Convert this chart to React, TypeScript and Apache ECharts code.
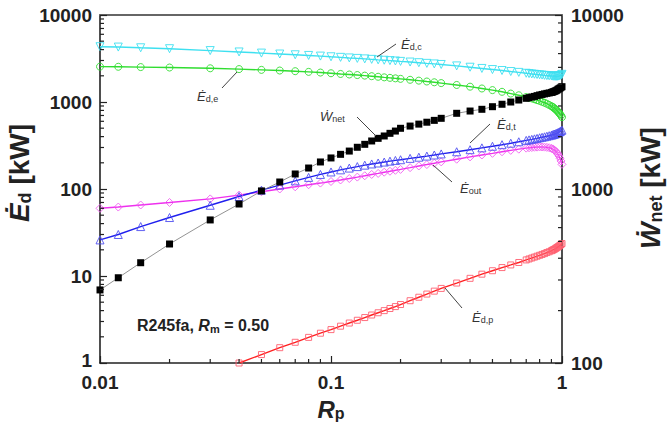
import React, { useEffect, useRef } from 'react';
import * as echarts from 'echarts';

const RP = [
  0.01, 0.012, 0.015, 0.02, 0.03, 0.04, 0.05, 0.06, 0.07, 0.08, 0.09, 0.1,
  0.11, 0.12, 0.13, 0.14, 0.15, 0.16, 0.17, 0.18, 0.19, 0.2,
  0.22, 0.24, 0.26, 0.28, 0.3,
  0.35, 0.4, 0.45, 0.5, 0.55, 0.6, 0.65, 0.7,
  0.72, 0.74, 0.76, 0.78, 0.8, 0.82, 0.84, 0.86, 0.88, 0.9,
  0.91, 0.92, 0.93, 0.94, 0.95, 0.96, 0.97, 0.98, 0.99, 1.0,
];

const ED_C = [
  4320, 4280, 4200, 4100, 3900, 3760, 3650, 3560, 3490, 3430, 3370, 3310,
  3260, 3210, 3170, 3130, 3090, 3050, 3020, 2990, 2960, 2930,
  2880, 2830, 2780, 2740, 2700,
  2600, 2510, 2430, 2360, 2300, 2240, 2190, 2140,
  2120, 2100, 2085, 2070, 2055, 2040, 2025, 2010, 2000, 1990,
  1985, 1980, 1978, 1976, 1975, 1980, 1990, 2010, 2040, 2080,
];

const ED_E = [
  2550, 2540, 2520, 2490, 2440, 2390, 2340, 2300, 2260, 2220, 2180, 2140,
  2100, 2070, 2040, 2010, 1980, 1950, 1920, 1895, 1870, 1845,
  1800, 1760, 1720, 1685, 1650,
  1570, 1500, 1430, 1370, 1310, 1250, 1195, 1140,
  1120, 1100, 1075, 1050, 1030, 1005, 980, 955, 925, 895,
  880, 860, 840, 820, 800, 775, 750, 725, 700, 670,
];

const ED_T = [
  26, 30, 37, 47, 65, 82, 97, 111, 124, 136, 147, 157,
  166, 174, 181, 188, 194, 199, 204, 209, 213, 217,
  225, 232, 239, 246, 253,
  268, 283, 297, 310, 323, 336, 349, 362,
  367, 372, 377, 382, 388, 393, 398, 404, 410, 416,
  420, 424, 428, 433, 438, 444, 450, 457, 465, 475,
];

const E_OUT = [
  60, 62, 65.5, 70, 77, 85, 93, 100, 106, 112, 117, 122,
  127, 132, 137, 142, 147, 151, 156, 160, 164, 168,
  176, 184, 191, 198, 205,
  220, 234, 246, 257, 268, 278, 287, 295,
  298, 300, 302, 303, 304, 304, 303, 301, 298, 293,
  289, 284, 278, 271, 262, 252, 240, 226, 210, 192,
];

const ED_P = [
  null, null, null, null, null, 1.0, 1.25, 1.5, 1.73, 1.97, 2.2, 2.42,
  2.65, 2.88, 3.1, 3.33, 3.56, 3.78, 4.0, 4.23, 4.45, 4.7,
  5.2, 5.7, 6.2, 6.7, 7.2,
  8.3, 9.4, 10.5, 11.5, 12.5, 13.4, 14.3, 15.3,
  15.7, 16.1, 16.5, 16.9, 17.3, 17.7, 18.1, 18.6, 19.0, 19.5,
  19.8, 20.1, 20.4, 20.8, 21.2, 21.6, 22.0, 22.5, 23.0, 23.6,
];

const W_NET = [
  263, 309, 377, 483, 664, 820, 975, 1097, 1220, 1320, 1430, 1508,
  1582, 1652, 1737, 1806, 1888, 1955, 2017, 2089, 2153, 2233,
  2300, 2360, 2420, 2480, 2548,
  2723, 2806, 2871, 2972, 3069, 3162, 3246, 3320,
  3350, 3380, 3405, 3440, 3470, 3495, 3520, 3545, 3565, 3590,
  3605, 3625, 3645, 3670, 3695, 3740, 3770, 3800, 3840, 3873,
];

const X_TICK_LABELS = ['0.01', '0.1', '1'];
const Y_LEFT_TICK_LABELS = ['1', '10', '100', '1000', '10000'];
const Y_RIGHT_TICK_LABELS = ['100', '1000', '10000'];

const X_MINOR = [0.02, 0.03, 0.04, 0.05, 0.06, 0.07, 0.08, 0.09, 0.2, 0.3, 0.4, 0.5, 0.6, 0.7, 0.8, 0.9];
const Y_LEFT_MINOR = [
  2, 3, 4, 5, 6, 7, 8, 9, 20, 30, 40, 50, 60, 70, 80, 90,
  200, 300, 400, 500, 600, 700, 800, 900, 2000, 3000, 4000, 5000, 6000, 7000, 8000, 9000,
];
const Y_RIGHT_MINOR = [200, 300, 400, 500, 600, 700, 800, 900, 2000, 3000, 4000, 5000, 6000, 7000, 8000, 9000];

const FONT = '"Liberation Sans", Arial, "DejaVu Sans", sans-serif';

function lg(v: number) {
  return Math.round(Math.log10(v));
}

function colored(name: string, vals: (number | null)[], color: string, markerColor: string, symbol: string, rotate: number, size: number) {
  return {
    type: 'line',
    name,
    xAxisIndex: 0,
    yAxisIndex: 0,
    data: RP.map((x, i) => [x, vals[i]]),
    symbol,
    symbolSize: size,
    symbolRotate: rotate,
    showSymbol: true,
    showAllSymbol: true,
    connectNulls: false,
    lineStyle: { color, width: 1.4 },
    itemStyle: { color: 'rgba(255,255,255,0)', borderColor: markerColor, borderWidth: 0.9 },
    emphasis: { disabled: true },
    z: 3,
  };
}

function minorTicks(values: number[], kind: 'x' | 'yl' | 'yr') {
  return {
    type: 'custom',
    coordinateSystem: 'cartesian2d',
    xAxisIndex: 0,
    yAxisIndex: kind === 'yr' ? 1 : 0,
    silent: true,
    clip: false,
    z: 10,
    data: values.map((v) => (kind === 'x' ? [v, 1] : [kind === 'yl' ? 0.01 : 1, v])),
    renderItem: (params: any, api: any) => {
      const p = api.coord([api.value(0), api.value(1)]);
      let shape;
      if (kind === 'x') shape = { x1: p[0], y1: p[1], x2: p[0], y2: p[1] - 4 };
      else if (kind === 'yl') shape = { x1: p[0], y1: p[1], x2: p[0] + 4, y2: p[1] };
      else shape = { x1: p[0], y1: p[1], x2: p[0] - 4, y2: p[1] };
      return { type: 'line', shape, style: { stroke: '#222', lineWidth: 1.2 } };
    },
  };
}

function annot(label: string, sub: string, lx: number, ly: number, l1: number[], l2: number[]) {
  return [
    {
      type: 'line',
      shape: { x1: l1[0], y1: l1[1], x2: l2[0], y2: l2[1] },
      style: { stroke: '#444', lineWidth: 1 },
      z: 20,
    },
    {
      type: 'text',
      x: lx,
      y: ly,
      z: 20,
      style: {
        text: `{e|${label}}{s|${sub}}`,
        verticalAlign: 'middle',
        align: 'left',
        rich: {
          e: { fontFamily: FONT, fontSize: 13, fontStyle: 'italic', fill: '#333', lineHeight: 15 },
          s: { fontFamily: FONT, fontSize: 9, fill: '#333', verticalAlign: 'bottom', lineHeight: 15 },
        },
      },
    },
  ];
}

function title(text: string, x: number, y: number, rotated: boolean) {
  return {
    type: 'text',
    x,
    y,
    rotation: rotated ? Math.PI / 2 : 0,
    z: 20,
    style: {
      text,
      align: 'center',
      verticalAlign: 'middle',
      rich: {
        i: { fontFamily: FONT, fontSize: 28, fontWeight: 'bold', fontStyle: 'italic', fill: '#222', lineHeight: 30 },
        s: { fontFamily: FONT, fontSize: 18, fontWeight: 'bold', fill: '#222', verticalAlign: 'bottom', lineHeight: 30 },
        n: { fontFamily: FONT, fontSize: 28, fontWeight: 'bold', fill: '#222', lineHeight: 30 },
      },
    },
  };
}

export default function App() {
  const ref = useRef<HTMLDivElement>(null);
  useEffect(() => {
    if (!ref.current) return;
    const chart = echarts.init(ref.current, null, { renderer: 'svg' });
    const axisLabelStyle = { fontFamily: FONT, fontSize: 19, fontWeight: 'bold', color: '#222', lineHeight: 16 };
    const option: any = {
      animation: false,
      backgroundColor: '#fff',
      grid: { left: 100, right: 105, top: 15, bottom: 62 },
      xAxis: [
        {
          type: 'log',
          logBase: 10,
          min: 0.01,
          max: 1,
          position: 'bottom',
          axisLine: { show: true, onZero: false, lineStyle: { color: '#222', width: 1.6 } },
          axisTick: { show: true, inside: true, length: 7, lineStyle: { color: '#222', width: 1.2 } },
          axisLabel: { ...axisLabelStyle, margin: 11, formatter: (v: number) => X_TICK_LABELS[lg(v) + 2] },
          splitLine: { show: false },
        },
        {
          type: 'log',
          logBase: 10,
          min: 0.01,
          max: 1,
          position: 'top',
          axisLine: { show: true, onZero: false, lineStyle: { color: '#666', width: 2 } },
          axisTick: { show: false },
          axisLabel: { show: false },
          splitLine: { show: false },
        },
      ],
      yAxis: [
        {
          type: 'log',
          logBase: 10,
          min: 1,
          max: 10000,
          position: 'left',
          axisLine: { show: true, onZero: false, lineStyle: { color: '#222', width: 1.6 } },
          axisTick: { show: true, inside: true, length: 7, lineStyle: { color: '#222', width: 1.2 } },
          axisLabel: {
            ...axisLabelStyle,
            margin: 8,
            formatter: (v: number) => (lg(v) === 0 ? `{b|${Y_LEFT_TICK_LABELS[0]}}` : Y_LEFT_TICK_LABELS[lg(v)]),
            rich: {
              b: { fontFamily: FONT, fontSize: 19, fontWeight: 'bold', color: '#222', lineHeight: 16, padding: [0, 0, 5, 0] },
            },
          },
          splitLine: { show: false },
        },
        {
          type: 'log',
          logBase: 10,
          min: 100,
          max: 10000,
          position: 'right',
          axisLine: { show: true, onZero: false, lineStyle: { color: '#222', width: 1.6 } },
          axisTick: { show: true, inside: true, length: 7, lineStyle: { color: '#222', width: 1.2 } },
          axisLabel: { ...axisLabelStyle, margin: 9, formatter: (v: number) => Y_RIGHT_TICK_LABELS[lg(v) - 2] },
          splitLine: { show: false },
        },
      ],
      series: [
        colored('Ed,c', ED_C, '#3ee0f0', '#3ee0f0', 'triangle', 180, 8),
        colored('Ed,e', ED_E, '#30dd30', '#30dd30', 'circle', 0, 7),
        colored('Eout', E_OUT, '#ee30ee', '#f060f0', 'diamond', 0, 8),
        colored('Ed,t', ED_T, '#2020ee', '#5050f0', 'triangle', 0, 8),
        colored('Ed,p', ED_P, '#ff2020', '#ff6070', 'rect', 0, 6),
        {
          type: 'line',
          name: 'Wnet',
          xAxisIndex: 0,
          yAxisIndex: 1,
          data: RP.map((x, i) => [x, W_NET[i]]),
          symbol: 'rect',
          symbolSize: 7,
          showSymbol: true,
          showAllSymbol: true,
          lineStyle: { color: '#777', width: 0.8 },
          itemStyle: { color: '#000' },
          emphasis: { disabled: true },
          z: 5,
        },
        minorTicks(X_MINOR, 'x'),
        minorTicks(Y_LEFT_MINOR, 'yl'),
        minorTicks(Y_RIGHT_MINOR, 'yr'),
      ],
      graphic: [
        ...annot('Ė', 'd,c', 401, 44, [396, 44], [377, 57]),
        ...annot('Ė', 'd,e', 197, 96, [222, 88], [237, 72]),
        ...annot('Ẇ', 'net', 320, 116, [357, 117], [376, 136]),
        ...annot('Ė', 'd,t', 497, 124, [490, 124], [470, 143]),
        ...annot('Ė', 'out', 460, 188, [433, 165], [452, 182]),
        ...annot('Ė', 'd,p', 472, 317, [445, 288], [462, 308]),
        {
          type: 'text',
          x: 137,
          y: 325,
          z: 20,
          style: {
            text: '{n|R245fa, }{i|R}{s|m}{n| = 0.50}',
            verticalAlign: 'middle',
            align: 'left',
            rich: {
              n: { fontFamily: FONT, fontSize: 16, fontWeight: 'bold', fill: '#222', lineHeight: 18 },
              i: { fontFamily: FONT, fontSize: 16, fontWeight: 'bold', fontStyle: 'italic', fill: '#222', lineHeight: 18 },
              s: { fontFamily: FONT, fontSize: 11, fontWeight: 'bold', fill: '#222', verticalAlign: 'bottom', lineHeight: 18 },
            },
          },
        },
        {
          type: 'text',
          x: 331,
          y: 409,
          z: 20,
          style: {
            text: '{i|R}{s|p}',
            align: 'center',
            verticalAlign: 'middle',
            rich: {
              i: { fontFamily: FONT, fontSize: 24, fontWeight: 'bold', fontStyle: 'italic', fill: '#222', lineHeight: 24 },
              s: { fontFamily: FONT, fontSize: 16, fontWeight: 'bold', fill: '#222', verticalAlign: 'bottom', lineHeight: 24 },
            },
          },
        },
        title('{i|Ė}{s|d}{n| [kW]}', 19, 173, true),
        title('{i|Ẇ}{s|net}{n| [kW]}', 650, 188, true),
      ],
    };
    chart.setOption(option);
    return () => chart.dispose();
  }, []);
  return (
    <div
      ref={ref}
      style={{ position: 'absolute', left: 0, top: 0, width: 667, height: 425, background: '#fff' }}
    />
  );
}
